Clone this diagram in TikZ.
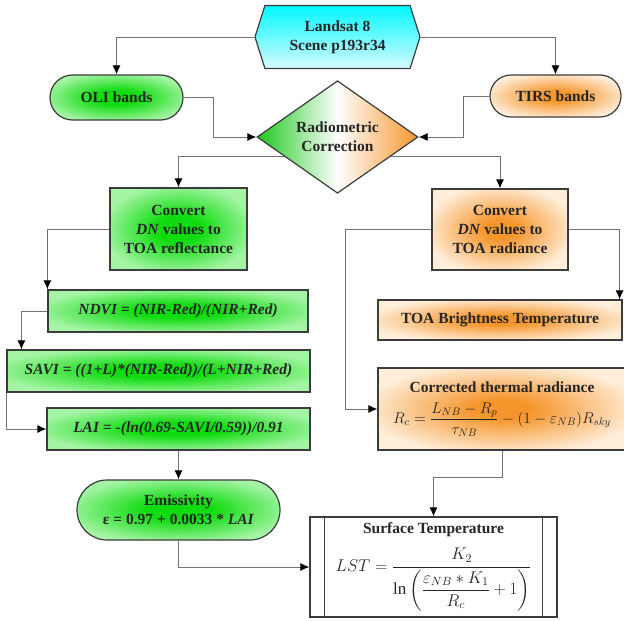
\RequirePackage{fix-cm}
\documentclass[tikz,border=0pt]{standalone}
\usepackage{amsmath}
\usepackage{fontspec}
\setmainfont{Liberation Serif}
\usetikzlibrary{shapes.geometric,shapes.symbols,shapes.misc,arrows.meta}
\definecolor{gin}{RGB}{15,220,15}
\definecolor{gout}{RGB}{165,244,165}
\definecolor{gdia}{RGB}{30,200,30}
\definecolor{oin}{RGB}{245,150,45}
\definecolor{oout}{RGB}{255,238,218}
\definecolor{cyantop}{RGB}{0,248,255}
\definecolor{cyanbot}{RGB}{215,251,255}
\definecolor{edgegray}{RGB}{60,60,60}
\definecolor{linegray}{RGB}{115,115,115}
\pgfdeclareradialshading{greenglow}{\pgfpoint{0bp}{0bp}}{color(0bp)=(gin); color(8bp)=(gin); color(28bp)=(gout); color(50bp)=(gout)}
\pgfdeclareradialshading{orangeglow}{\pgfpoint{0bp}{0bp}}{color(0bp)=(oin); color(6bp)=(oin); color(28bp)=(oout); color(50bp)=(oout)}

\begin{document}
\begin{tikzpicture}[x=1pt,y=-1pt,
  every node/.style={font=\fontsize{15.5}{19}\selectfont\bfseries,text=black!85,align=center,
    draw=edgegray,line width=1.2pt,inner sep=2pt},
  greenbox/.style={rectangle,shade,shading=greenglow},
  orangebox/.style={rectangle,shade,shading=orangeglow},
  link/.style={draw=linegray,line width=1pt,-{Latex[length=9pt,width=8pt,color=black]}}]
  \useasboundingbox (0,0) rectangle (624,621);
  \clip (0,0) rectangle (624,621);
  \node[signal,signal to=west and east,signal pointer angle=145,top color=cyantop,bottom color=cyanbot,
    minimum width=165,minimum height=63] (land) at (337.5,37) {Landsat 8\\Scene p193r34};
  \node[rounded rectangle,shade,shading=greenglow,minimum width=137,minimum height=45] (oli) at (116.5,97.5) {OLI bands};
  \node[rounded rectangle,shade,shading=orangeglow,minimum width=135,minimum height=42] (tirs) at (555.5,96) {TIRS bands};
  \node[diamond,left color=gdia,right color=oin,middle color=white,inner sep=0pt,
    minimum width=161,minimum height=86] (rad) at (337.5,137) {Radiometric\\Correction};
  \node[greenbox,minimum width=137,minimum height=82] (conv1) at (178.5,229) {Convert\\\textit{DN} values to\\TOA reflectance};
  \node[orangebox,minimum width=136,minimum height=81] (conv2) at (500,229.5) {Convert\\\textit{DN} values to\\TOA radiance};
  \node[greenbox,minimum width=260,minimum height=42] (ndvi) at (178,311) {\textit{NDVI = (NIR-Red)/(NIR+Red)}};
  \node[greenbox,minimum width=303,minimum height=42] (savi) at (158.5,371) {\textit{SAVI = ((1+L)*(NIR-Red))/(L+NIR+Red)}};
  \node[greenbox,minimum width=263,minimum height=42] (lai) at (178.5,429) {\textit{LAI = -(ln(0.69-SAVI/0.59))/0.91}};
  \node[rounded rectangle,shade,shading=greenglow,minimum width=207,minimum height=60] (emis) at (178.5,510)
    {Emissivity\\ε = 0.97 + 0.0033 * \textit{LAI}};
  \node[orangebox,minimum width=244,minimum height=40] (toa) at (500,320) {TOA Brightness Temperature};
  \node[orangebox,minimum width=248,minimum height=82] (corr) at (502,409)
    {Corrected thermal radiance\\[9pt]
     \mdseries$R_c=\dfrac{L_{NB}-R_p}{\tau_{NB}}-(1-\varepsilon_{NB})R_{sky}$};
  \node[rectangle,fill=white,minimum width=247,minimum height=100,inner sep=1pt] (lst) at (433.5,567)
    {Surface Temperature\\[10pt]
     \mdseries\fontsize{17}{20}\selectfont$LST=\dfrac{K_2}{\ln\left(\dfrac{\varepsilon_{NB}*K_1}{R_c}+1\right)}$};
  \draw[draw=edgegray,line width=1.2pt] ([xshift=15pt]lst.north west) -- ([xshift=15pt]lst.south west)
    ([xshift=-15pt]lst.north east) -- ([xshift=-15pt]lst.south east);
  \draw[link] (land.west) -| (oli.north);
  \draw[link] (land.east) -| (tirs.north);
  \draw[link] (oli.east) -- ++(30,0) |- (rad.west);
  \draw[link] (tirs.west) -- ++(-26,0) |- (rad.east);
  \draw[link] (rad.200) -| (conv1.north);
  \draw[link] (rad.-20) -| (conv2.north);
  \draw[link] (conv1.west) -| (ndvi.north west);
  \draw[link] (ndvi.west) -| ([xshift=15pt]savi.north west);
  \draw[link] (savi.south west) |- (lai.west);
  \draw[link] (lai.south) -- (emis.north);
  \draw[link] (emis.south) |- (lst.west);
  \draw[link] (conv2.east) -| ([xshift=-3pt]toa.north east);
  \draw[link] (conv2.west) -- ++(-86,0) |- (corr.west);
  \draw[link] (corr.south) -- ++(0,27) -| (lst.north);
\end{tikzpicture}
\end{document}
